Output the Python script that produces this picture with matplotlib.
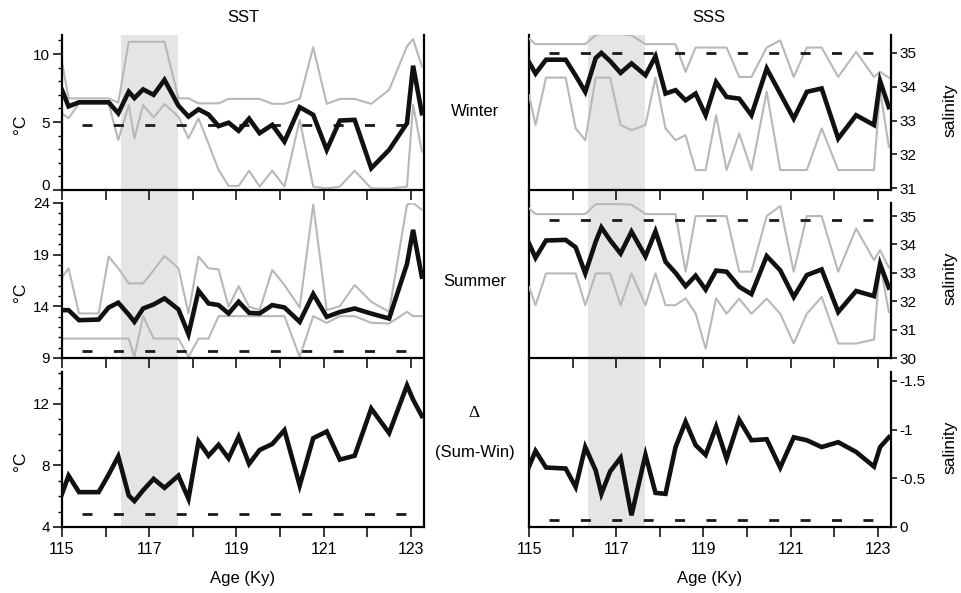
import matplotlib.pyplot as plt
from matplotlib.ticker import MultipleLocator, FixedLocator, FuncFormatter

plt.rcParams['font.family'] = ['Liberation Sans', 'DejaVu Sans']
plt.rcParams['axes.unicode_minus'] = False

# sample ages (Ky)
age = [115.0, 115.15, 115.39, 115.84, 116.07, 116.29, 116.53, 116.66, 116.86, 117.1,
       117.35, 117.67, 117.9, 118.13, 118.36, 118.59, 118.82, 119.05, 119.29, 119.53,
       119.82, 120.1, 120.45, 120.76, 121.07, 121.37, 121.71, 122.09, 122.5, 122.91,
       123.05, 123.25]

# SST winter
sst_win = [7.35, 6.15, 6.45, 6.45, 6.45, 5.64, 7.23, 6.76, 7.4, 7.0,
           8.1, 6.2, 5.4, 5.93, 5.55, 4.7, 4.95, 4.35, 5.25, 4.18,
           4.79, 3.56, 6.09, 5.53, 2.95, 5.11, 5.16, 1.6, 2.95, 4.91,
           9.14, 5.65]
sst_win_hi = [9.43, 6.74, 6.74, 6.74, 6.74, 6.42, 10.9, 10.9, 10.9, 10.9,
              10.9, 6.74, 6.74, 6.37, 6.37, 6.37, 6.7, 6.7, 6.7, 6.7,
              6.34, 6.34, 6.7, 10.5, 6.34, 6.7, 6.7, 6.34, 7.37, 10.56,
              11.1, 9.1]
sst_win_lo = [5.64, 5.27, 6.37, 6.37, 6.37, 3.68, 6.25, 3.8, 6.25, 5.34,
              6.32, 5.39, 3.8, 5.27, 3.4, 1.47, 0.3, 0.3, 1.42, 0.25,
              1.42, 0.25, 5.16, 0.25, 0.12, 0.25, 1.42, 0.12, 0.1, 0.25,
              6.27, 2.83]

# SST summer
sst_sum = [13.63, 13.63, 12.66, 12.72, 13.89, 14.35, 13.2, 12.5, 13.79, 14.18,
           14.77, 13.7, 11.3, 15.51, 14.28, 14.12, 13.31, 14.44, 13.37, 13.31,
           14.12, 13.89, 12.5, 15.19, 12.98, 13.45, 13.79, 13.3, 12.82, 18.1,
           21.4, 16.87]
sst_sum_hi = [16.8, 17.68, 13.31, 13.31, 18.82, 17.68, 16.22, 16.22, 16.22, 17.5,
              18.88, 17.68, 13.31, 18.82, 17.68, 17.58, 13.96, 15.96, 13.96, 13.63,
              17.52, 16.06, 13.89, 23.84, 13.63, 14.02, 16.06, 14.44, 13.47, 23.84,
              24.0, 23.35]
sst_sum_lo = [10.88, 10.88, 10.88, 10.88, 10.88, 10.88, 10.88, 9.1, 13.05, 10.88,
              10.88, 10.88, 9.1, 10.88, 10.88, 13.05, 13.05, 13.05, 13.05, 13.05,
              13.05, 13.05, 9.1, 13.05, 12.4, 13.05, 13.05, 12.4, 12.34, 13.47,
              13.05, 13.05]

# SST summer - winter
sst_diff = [6.15, 7.33, 6.26, 6.26, 7.4, 8.58, 6.04, 5.68, 6.38, 7.12,
            6.54, 7.33, 5.83, 9.55, 8.62, 9.33, 8.45, 9.85, 8.09, 8.99,
            9.38, 10.28, 6.69, 9.76, 10.19, 8.37, 8.62, 11.68, 10.09, 13.18,
            12.26, 11.2]

# SSS winter
sss_win = [34.73, 34.39, 34.8, 34.8, 34.33, 33.85, 34.85, 35.0, 34.76, 34.41,
           34.69, 34.34, 34.9, 33.8, 33.9, 33.6, 33.8, 33.16, 34.14, 33.7,
           33.65, 33.16, 34.54, 33.8, 33.06, 33.85, 33.95, 32.47, 33.16, 32.87,
           34.17, 33.4]
sss_win_hi = [35.42, 35.26, 35.26, 35.26, 35.26, 35.26, 35.53, 35.55, 35.55, 35.55,
              35.52, 35.26, 35.26, 35.26, 35.26, 34.44, 35.16, 35.16, 35.16, 35.16,
              34.29, 34.29, 35.16, 35.37, 34.29, 35.16, 35.16, 34.29, 35.03, 34.29,
              34.44, 34.27]
sss_win_lo = [33.75, 32.87, 34.27, 34.27, 32.77, 32.42, 34.27, 34.27, 34.27, 32.87,
              32.72, 32.87, 34.27, 32.77, 32.42, 32.57, 31.54, 31.54, 33.16, 31.54,
              32.62, 31.54, 33.85, 31.54, 31.54, 31.54, 32.77, 31.54, 31.54, 31.54,
              33.9, 32.23]

# SSS summer
sss_sum = [34.04, 33.53, 34.14, 34.16, 33.9, 32.98, 34.1, 34.6, 34.15, 33.68,
           34.45, 33.58, 34.46, 33.39, 33.0, 32.53, 32.9, 32.41, 33.08, 33.04,
           32.51, 32.25, 33.59, 33.09, 32.15, 32.92, 33.12, 31.62, 32.36, 32.18,
           33.31, 32.48]
sss_sum_hi = [35.27, 35.07, 35.07, 35.07, 35.07, 35.07, 35.42, 35.42, 35.42, 35.42,
              35.4, 35.07, 35.07, 35.07, 35.07, 33.04, 35.0, 35.0, 35.0, 35.0,
              33.04, 33.04, 35.0, 35.35, 33.04, 35.0, 35.0, 33.04, 34.56, 33.45,
              33.8, 33.19]
sss_sum_lo = [32.5, 31.86, 32.98, 32.98, 32.98, 31.86, 32.98, 32.98, 32.98, 31.86,
              32.98, 31.86, 32.98, 31.86, 31.86, 32.1, 31.57, 30.33, 32.1, 31.56,
              32.09, 31.56, 32.09, 31.56, 30.51, 31.56, 32.15, 30.51, 30.51, 30.65,
              33.33, 31.62]

# SSS summer - winter
sss_diff = [-0.62, -0.78, -0.61, -0.6, -0.41, -0.82, -0.58, -0.34, -0.57, -0.71,
            -0.12, -0.74, -0.35, -0.34, -0.82, -1.08, -0.84, -0.74, -1.03, -0.70,
            -1.1, -0.89, -0.9, -0.61, -0.92, -0.89, -0.82, -0.87, -0.77, -0.62,
            -0.82, -0.92]

# modern values (dashed lines)
modern_sst = [4.75, 9.65, 4.82]
modern_sss = [35.0, 34.87, -0.076]
modern_span = [115.47, 123.03]

event = [116.35, 117.65]
xticks = [115, 116, 117, 118, 119, 120, 121, 122, 123]
xtick_labels = ['115', '', '117', '', '119', '', '121', '', '123']
rows = ['Winter', 'Summer', 'Δ']

W, H = 961, 593
FS = 11
SHADE = '#e4e5e7'
GRAY = '#b8b8b8'


def box(x0, y0, x1, y1):
    return [x0 / W, 1 - y1 / H, (x1 - x0) / W, (y1 - y0) / H]


fig = plt.figure(figsize=(W / 100, H / 100), dpi=100)

cols_x = [(62, 424), (529, 891)]
rows_y = [(35, 190), (203, 358), (372, 527)]

# background axes: shading + continuous inner spine
for ci, (x0, x1) in enumerate(cols_x):
    bg = fig.add_axes(box(x0, 35, x1, 527), zorder=0)
    bg.set_xlim(115, 123.3)
    bg.axvspan(event[0], event[1], color=SHADE, lw=0)
    bg.set_xticks([])
    bg.set_yticks([])
    for s in bg.spines.values():
        s.set_visible(False)
    inner = 'right' if ci == 0 else 'left'
    bg.spines[inner].set_visible(True)
    bg.spines[inner].set_linewidth(1.6)


def style(ax, side, bottom):
    ax.set_facecolor('none')
    ax.set_xlim(115, 123.3)
    for s in ['top', 'left', 'right']:
        ax.spines[s].set_visible(False)
    ax.spines[side].set_visible(True)
    for s in ['bottom', side]:
        ax.spines[s].set_linewidth(1.6)
    ax.set_xticks(xticks)
    ax.set_xticklabels(xtick_labels if bottom else [''] * len(xticks), fontsize=FS + 0.5)
    ax.tick_params(axis='x', direction='out', length=7, width=1.1, pad=4)
    if side == 'right':
        ax.yaxis.tick_right()
        ax.tick_params(axis='y', which='major', direction='out', length=4.5,
                       width=1.1, pad=1.5, labelsize=FS)
    else:
        ax.yaxis.set_minor_locator(MultipleLocator(1))
        ax.tick_params(axis='y', which='major', direction='out', length=6.5,
                       width=1.1, pad=2, labelsize=FS)
        ax.tick_params(axis='y', which='minor', direction='out', length=3,
                       width=1.0)


def dashed(ax, y):
    ax.plot(modern_span, [y, y], color='#1a1a1a', lw=2.0,
            linestyle=(0, (3.6, 7.7)), zorder=3)


sst_sets = [(sst_win, sst_win_hi, sst_win_lo), (sst_sum, sst_sum_hi, sst_sum_lo), (sst_diff, None, None)]
sss_sets = [(sss_win, sss_win_hi, sss_win_lo), (sss_sum, sss_sum_hi, sss_sum_lo), (sss_diff, None, None)]
sst_lims = [(0, 11.4), (9, 24), (4, 14.05)]
sss_lims = [(30.95, 35.53), (30, 35.46), (0, -1.59)]
sst_ticks = [[0, 5, 10], [9, 14, 19, 24], [4, 8, 12]]
sss_ticks = [[31, 32, 33, 34, 35], [30, 31, 32, 33, 34, 35], [0, -0.5, -1, -1.5]]

for ri, (y0, y1) in enumerate(rows_y):
    bottom = ri == 2
    # SST
    ax = fig.add_axes(box(cols_x[0][0], y0, cols_x[0][1], y1), zorder=2)
    style(ax, 'left', bottom)
    mean, hi, lo = sst_sets[ri]
    if hi is not None:
        ax.plot(age, hi, color=GRAY, lw=1.5, zorder=2)
        ax.plot(age, lo, color=GRAY, lw=1.5, zorder=2)
    dashed(ax, modern_sst[ri])
    ax.plot(age, mean, color='#111111', lw=3.3, solid_joinstyle='miter', zorder=4)
    ax.set_ylim(*sst_lims[ri])
    ax.set_yticks(sst_ticks[ri])
    labels = ax.set_yticklabels([str(t) for t in sst_ticks[ri]])
    if ri == 0:
        # lift the "0" so it clears the "24" of the panel below
        labels[0].set_va('baseline')
    cy = (y0 + y1) / 2 + 12
    fig.text(20 / W, 1 - cy / H, '°C', rotation=90, ha='center', va='center', fontsize=FS + 1.5)

    # SSS
    ax = fig.add_axes(box(cols_x[1][0], y0, cols_x[1][1], y1), zorder=2)
    style(ax, 'right', bottom)
    mean, hi, lo = sss_sets[ri]
    if hi is not None:
        ax.plot(age, hi, color=GRAY, lw=1.5, zorder=2)
        ax.plot(age, lo, color=GRAY, lw=1.5, zorder=2)
    dashed(ax, modern_sss[ri])
    ax.plot(age, mean, color='#111111', lw=3.3, solid_joinstyle='miter', zorder=4)
    ax.set_ylim(*sss_lims[ri])
    ax.yaxis.set_major_locator(FixedLocator(sss_ticks[ri]))
    ax.yaxis.set_major_formatter(FuncFormatter(lambda v, p: '{:g}'.format(v)))
    cy = (y0 + y1) / 2 - 2
    fig.text(950 / W, 1 - cy / H, 'salinity', rotation=90, ha='center', va='center', fontsize=FS + 1.5)

    if bottom:
        for (x0, x1) in cols_x:
            fig.text((x0 + x1) / 2 / W, 1 - 579 / H, 'Age (Ky)', ha='center', va='center', fontsize=FS + 1)

# column titles
fig.text(243 / W, 1 - 18 / H, 'SST', ha='center', va='center', fontsize=FS + 1)
fig.text(709 / W, 1 - 18 / H, 'SSS', ha='center', va='center', fontsize=FS + 1)

# row labels
fig.text(475 / W, 1 - 112 / H, rows[0], ha='center', va='center', fontsize=FS + 1)
fig.text(475 / W, 1 - 281 / H, rows[1], ha='center', va='center', fontsize=FS + 1)
fig.text(474 / W, 1 - 413 / H, rows[2], ha='center', va='center', fontsize=FS + 1.5,
         family=['Liberation Serif', 'DejaVu Serif'])
fig.text(475 / W, 1 - 453 / H, '(Sum-Win)', ha='center', va='center', fontsize=FS + 1)

fig.savefig('out.png', dpi=100, facecolor='white')
